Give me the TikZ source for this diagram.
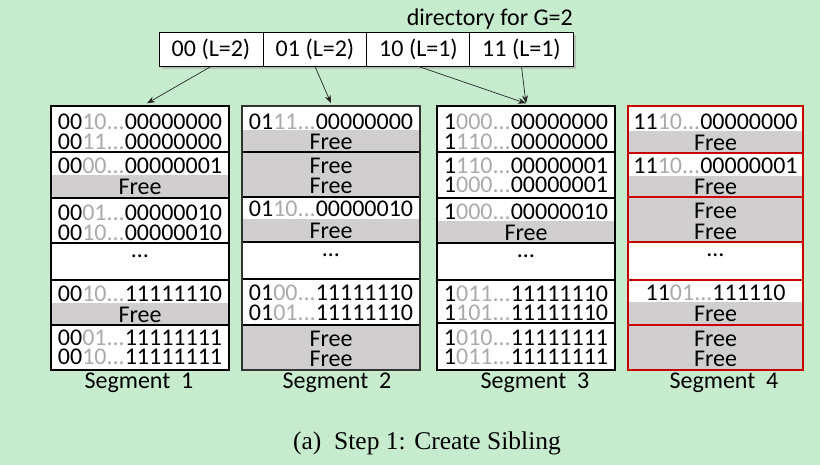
\documentclass[tikz,border=0pt]{standalone}
\usepackage{fontspec}
\usetikzlibrary{arrows.meta}
\newfontfamily\keyfont{Carlito}
\newfontfamily\capfont{Liberation Serif}
\definecolor{bggreen}{RGB}{199,236,205}
\definecolor{freegray}{RGB}{208,206,206}
\definecolor{digitgray}{RGB}{170,170,170}
\definecolor{segred}{RGB}{200,0,0}
\newcommand{\kf}{\keyfont\fontsize{24}{25}\selectfont}
\tikzset{
  rowtext/.style={inner sep=0pt, text height=15pt, text depth=0pt, font=\kf},
  dotstext/.style={inner sep=0pt, text height=3pt, text depth=0pt, font=\kf, anchor=base},
  dircell/.style={draw=black, line width=0.9pt, fill=white, minimum width=104pt, minimum height=34pt, inner sep=0pt, font=\kf},
  segframe/.style={draw=black, line width=1.3pt, minimum width=178pt, minimum height=264pt, inner sep=0pt},
  redframe/.style={draw=segred, line width=1.5pt, minimum width=175pt, minimum height=264pt, inner sep=0pt},
  grpline/.style={draw=black, line width=1.2pt},
  redline/.style={draw=segred, line width=1.5pt},
  arr/.style={draw=black!85, line width=0.7pt, -{Stealth[length=8pt,width=6pt]}},
  seglabel/.style={inner sep=0pt, text height=15pt, text depth=4pt, font=\kf},
}
% name, x, y, black part, gray part, rest
\newcommand{\keyrow}[6]{\node[rowtext] (#1) at (#2,#3) {#4\textcolor{digitgray}{#5...}#6};}
\newcommand{\freerow}[3]{\node[rowtext] (#1) at (#2,#3) {Free};}
\newcommand{\gfill}[4]{\fill[freegray] (#1,#2) rectangle (#3,#4);}
\begin{document}
\begin{tikzpicture}[x=1pt,y=-1pt]
\useasboundingbox (0,0) rectangle (820,465);
\fill[bggreen] (0,0) rectangle (820,465);

% directory
\node[inner sep=0pt, font=\kf, anchor=base east] (dirlabel) at (573,26) {directory for G=2};
\fill[black!35, opacity=0.6] (162,35) rectangle (576,69);
\node[dircell] (d00) at (211,49) {00 (L=2)};
\node[dircell] (d01) at (315,49) {01 (L=2)};
\node[dircell] (d10) at (418.5,49) {10 (L=1)};
\node[dircell] (d11) at (521.5,49) {11 (L=1)};

% ---------- Segment 1 ----------
\fill[white] (51,106) rectangle (229,370);
\gfill{51}{175}{229}{198}
\gfill{51}{303}{229}{325}
\foreach \yy in {152,198,243,280,325} \draw[grpline] (51,\yy) -- (229,\yy);
\keyrow{s1a}{140}{121.7}{00}{10}{00000000}
\keyrow{s1b}{140}{141.7}{00}{11}{00000000}
\keyrow{s1c}{140}{166}{00}{00}{00000001}
\freerow{s1d}{140}{187}
\keyrow{s1e}{140}{213}{00}{01}{00000010}
\keyrow{s1f}{140}{233}{00}{10}{00000010}
\node[dotstext] (s1dots) at (140,258) {…};
\keyrow{s1g}{140}{294}{00}{10}{11111110}
\freerow{s1h}{140}{315}
\keyrow{s1i}{140}{338}{00}{01}{11111111}
\keyrow{s1j}{140}{357}{00}{10}{11111111}
\node[segframe] (seg1) at (140,238) {};
\node[seglabel] (lab1) at (139,383) {Segment~~1};

% ---------- Segment 2 ----------
\fill[white] (242,106) rectangle (420,370);
\gfill{242}{130.5}{420}{152}
\gfill{242}{152}{420}{197}
\gfill{242}{219}{420}{242}
\gfill{242}{325}{420}{370}
\foreach \yy in {152,197,242,279,325} \draw[grpline] (242,\yy) -- (420,\yy);
\keyrow{s2a}{331}{121.7}{01}{11}{00000000}
\freerow{s2b}{331}{142.5}
\freerow{s2c}{331}{166}
\freerow{s2d}{331}{186.5}
\keyrow{s2e}{331}{209.5}{01}{10}{00000010}
\freerow{s2f}{331}{231}
\node[dotstext] (s2dots) at (331,257) {…};
\keyrow{s2g}{331}{293}{01}{00}{11111110}
\keyrow{s2h}{331}{312.7}{01}{01}{11111110}
\freerow{s2i}{331}{339}
\freerow{s2j}{331}{359}
\node[segframe, draw=black!80, line width=1.6pt] (seg2) at (331,238) {};
\node[seglabel] (lab2) at (337,383) {Segment~~2};

% ---------- Segment 3 ----------
\fill[white] (437,106) rectangle (615,370);
\gfill{437}{221}{615}{243}
\foreach \yy in {152,243,280,323} \draw[grpline] (437,\yy) -- (615,\yy);
\draw[grpline, line width=2pt] (437,198) -- (615,198);
\keyrow{s3a}{526}{121.7}{1}{000}{00000000}
\keyrow{s3b}{526}{141.7}{1}{110}{00000000}
\keyrow{s3c}{526}{165.7}{1}{110}{00000001}
\keyrow{s3d}{526}{185}{1}{000}{00000001}
\keyrow{s3e}{526}{211.7}{1}{000}{00000010}
\freerow{s3f}{526}{233}
\node[dotstext] (s3dots) at (526,258) {…};
\keyrow{s3g}{526}{294}{1}{011}{11111110}
\keyrow{s3h}{526}{313}{1}{101}{11111110}
\keyrow{s3i}{526}{338}{1}{010}{11111111}
\keyrow{s3j}{526}{357}{1}{011}{11111111}
\node[segframe] (seg3) at (526,238) {};
\node[seglabel] (lab3) at (535,383) {Segment~~3};

% ---------- Segment 4 ----------
\fill[white] (628,106) rectangle (803,370);
\gfill{628}{130.7}{803}{153}
\gfill{628}{176}{803}{197}
\gfill{628}{197}{803}{242}
\gfill{628}{302}{803}{325}
\gfill{628}{325}{803}{370}
\foreach \yy in {153,197,242,280,325} \draw[redline] (628,\yy) -- (803,\yy);
\keyrow{s4a}{715.5}{121.7}{11}{10}{00000000}
\freerow{s4b}{715.5}{142.7}
\keyrow{s4c}{715.5}{165.7}{11}{10}{00000001}
\freerow{s4d}{715.5}{187}
\freerow{s4e}{715.5}{211}
\freerow{s4f}{715.5}{231.7}
\node[dotstext] (s4dots) at (715.5,257) {…};
\keyrow{s4g}{715.5}{293}{11}{01}{111110}
\freerow{s4h}{715.5}{314}
\freerow{s4i}{715.5}{339}
\freerow{s4j}{715.5}{359}
\node[redframe] (seg4) at (715.5,238) {};
\node[seglabel] (lab4) at (724,383) {Segment~~4};

% arrows
\draw[arr] (d00.south) -- ([xshift=7pt,yshift=2pt]seg1.north);
\draw[arr] (d01.south) -- ([yshift=2pt]seg2.north);
\draw[arr] (d10.south) -- ([yshift=2pt]seg3.north);
\draw[arr] (d11.south) -- ([yshift=2pt]seg3.north);

% caption
\node[inner sep=0pt, font=\capfont\fontsize{25.5}{27}\selectfont, anchor=base] (caption) at (427,449) {(a)\hspace{0.5em}Step 1: Create Sibling};
\end{tikzpicture}
\end{document}
